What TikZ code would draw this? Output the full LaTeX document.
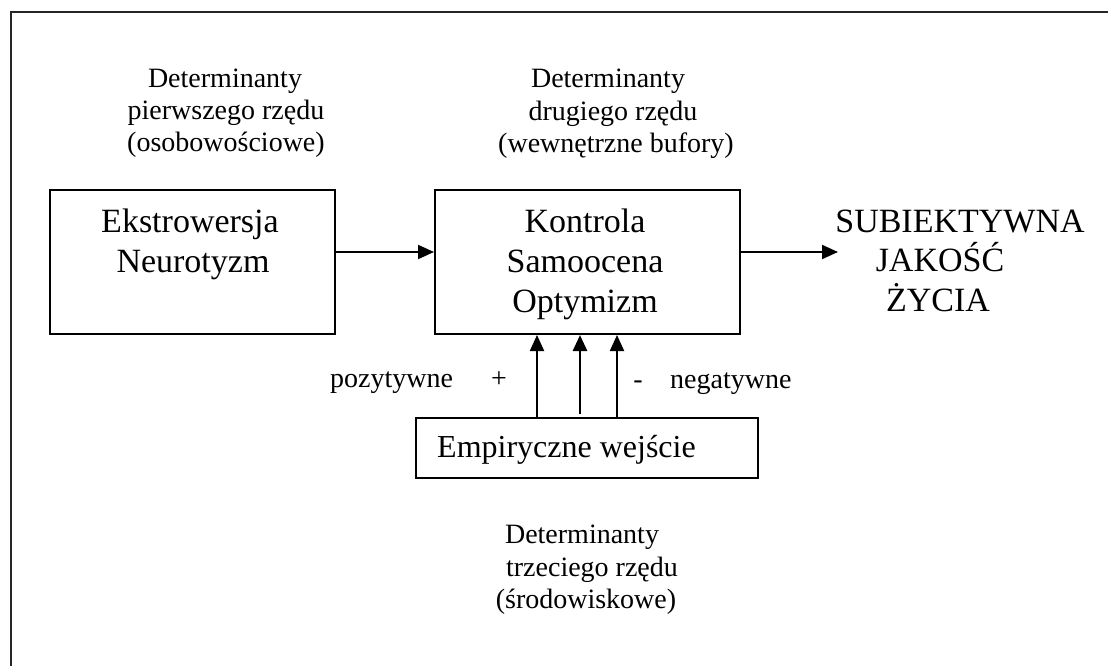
\documentclass[tikz,border=0pt]{standalone}
\usepackage{fontspec}
\setmainfont{Liberation Serif}
\usetikzlibrary{arrows.meta}
\tikzset{
  boxnode/.style={draw=black, line width=2pt, inner sep=0pt},
  bigtxt/.style={font=\fontsize{34}{40}\selectfont, inner sep=0pt, anchor=base},
  midtxt/.style={font=\fontsize{32}{38}\selectfont, inner sep=0pt},
  smalltxt/.style={font=\fontsize{28}{32}\selectfont, inner sep=0pt, anchor=base},
  arr/.style={line width=2pt, -{Triangle[length=16pt,width=14pt]}},
  frameline/.style={line width=2.5pt, draw=black!85}
}
\begin{document}
\begin{tikzpicture}[x=1pt, y=-1pt]
\useasboundingbox (0,0) rectangle (1108,666);
% outer frame (right and bottom edges lie outside the picture)
\draw[frameline] (11,666) -- (11,12) -- (1108,12);

% boxes
\node[boxnode, minimum width=285pt, minimum height=144pt] (b1) at (192.5,262) {};
\node[boxnode, minimum width=305pt, minimum height=144pt] (b2) at (587.5,262) {};
\node[boxnode, minimum width=342pt, minimum height=60pt] (b3) at (587,448) {};

% box texts
\node[bigtxt] (e1) at (190,232) {Ekstrowersja};
\node[bigtxt] (e2) at (193,272) {Neurotyzm};
\node[bigtxt] (k1) at (585,232) {Kontrola};
\node[bigtxt] (k2) at (585,272) {Samoocena};
\node[bigtxt] (k3) at (585,312) {Optymizm};
\node[midtxt, anchor=base west] (emp) at (437,457) {Empiryczne wejście};

% outcome
\node[bigtxt] (s1) at (960,232) {SUBIEKTYWNA};
\node[bigtxt] (s2) at (940,271) {JAKOŚĆ};
\node[bigtxt] (s3) at (938,311) {ŻYCIA};

% determinant labels
\node[smalltxt] (d1a) at (225,88) {Determinanty};
\node[smalltxt] (d1b) at (226,120) {pierwszego rzędu};
\node[smalltxt] (d1c) at (226,152) {(osobowościowe)};
\node[smalltxt] (d2a) at (608,88) {Determinanty};
\node[smalltxt] (d2b) at (613,121) {drugiego rzędu};
\node[smalltxt] (d2c) at (616,153) {(wewnętrzne bufory)};
\node[smalltxt] (d3a) at (582,543) {Determinanty};
\node[smalltxt] (d3b) at (592,576) {trzeciego rzędu};
\node[smalltxt] (d3c) at (586,608) {(środowiskowe)};

% influence labels
\node[smalltxt, anchor=base west] (poz) at (330,387) {pozytywne};
\node[smalltxt] (plus) at (499,387) {+};
\node[smalltxt] (minus) at (638,388) {-};
\node[smalltxt, anchor=base west] (neg) at (670,388) {negatywne};

% connectors
\coordinate (row) at (0,252);
\coordinate (out) at (838,252);
\coordinate (ua) at (537,0);
\coordinate (ub) at (580,414);
\coordinate (uc) at (617,0);
\draw[arr] (b1.east |- row) -- (b2.west |- row);
\draw[arr] (b2.east |- row) -- (out);
\draw[arr] (b3.north -| ua) -- (b2.south -| ua);
\draw[arr, line width=2.6pt] (ub) -- (b2.south -| ub);
\draw[arr] (b3.north -| uc) -- (b2.south -| uc);
\end{tikzpicture}
\end{document}
